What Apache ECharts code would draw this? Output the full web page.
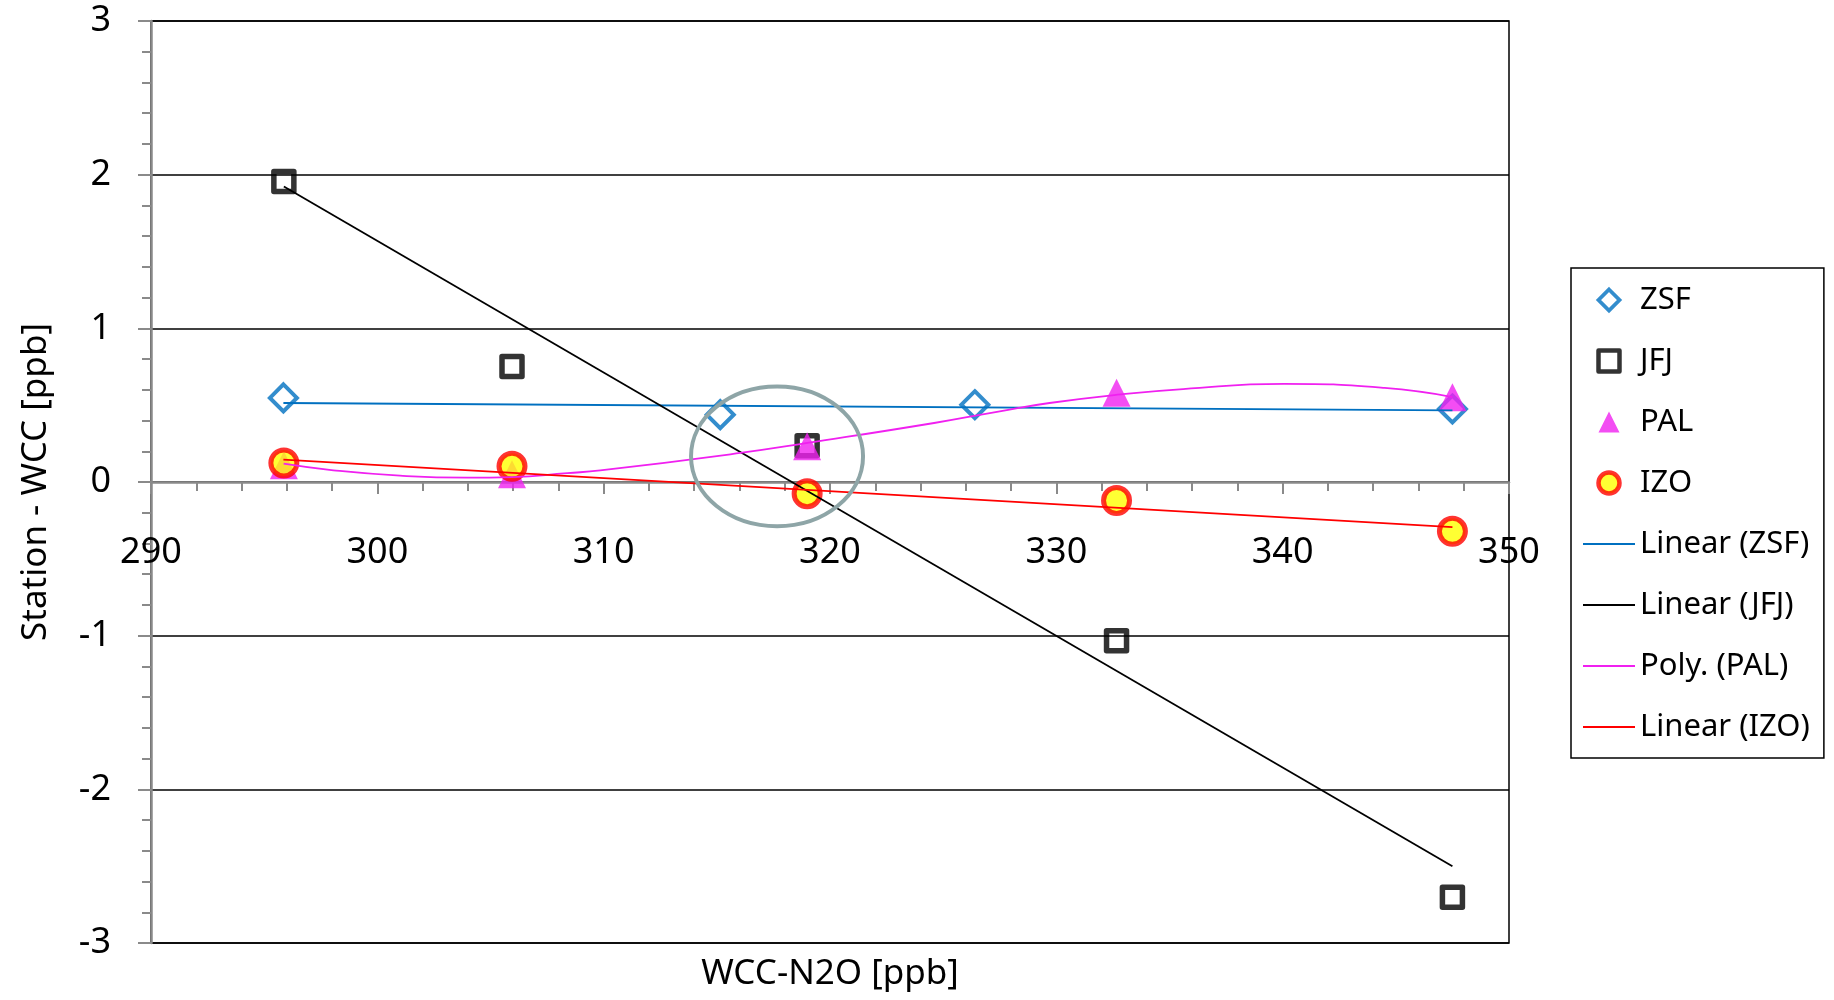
<!DOCTYPE html>
<html>
<head>
<meta charset="utf-8">
<title>Station - WCC vs WCC-N2O</title>
<script src="https://cdn.jsdelivr.net/npm/echarts@6/dist/echarts.min.js"></script>
<style>
  html, body { margin: 0; padding: 0; background: #fff; }
  #chart { width: 1834px; height: 1000px; }
</style>
</head>
<body>
<div id="chart"></div>
<script>
// Station minus WCC differences (ppb) against the WCC-N2O level (ppb)
const zsfX = [295.85, 315.15, 326.4, 347.5];
const zsfY = [0.547, 0.438, 0.503, 0.475];

const jfjX = [295.87, 305.95, 318.99, 332.66, 347.5];
const jfjY = [1.956, 0.752, 0.236, -1.033, -2.703];

const palX = [295.87, 305.95, 318.99, 332.66, 347.5];
const palY = [0.109, 0.05, 0.232, 0.581, 0.552];

const izoX = [295.87, 305.95, 318.99, 332.66, 347.5];
const izoY = [0.124, 0.102, -0.076, -0.12, -0.321];

// Trend lines as drawn on the chart (end points / curve samples)
const trendZsfX = [295.85, 347.5];
const trendZsfY = [0.514, 0.466];
const trendJfjX = [295.87, 347.5];
const trendJfjY = [1.923, -2.501];
const trendIzoX = [295.85, 347.5];
const trendIzoY = [0.145, -0.293];
const polyPalX = [295.86, 298.06, 301.0, 303.97, 305.96, 308.4, 309.85, 316.04, 319.0, 324.6, 327.5, 329.7, 332.7, 335.6, 340.06, 344.5, 347.5];
const polyPalY = [0.119, 0.076, 0.041, 0.028, 0.032, 0.058, 0.075, 0.189, 0.254, 0.384, 0.46, 0.514, 0.568, 0.605, 0.638, 0.612, 0.553];

// Highlighted region around the 320 ppb level: centre and half-widths in data units
const noteCentre = [317.66, 0.167];
const noteRadius = [3.8, 0.455];

const xTicks = { min: 290, max: 350, step: 10 };
const yTicks = { min: -3, max: 3, step: 1 };

const seriesNames = ['ZSF', 'JFJ', 'PAL', 'IZO', 'Linear (ZSF)', 'Linear (JFJ)', 'Poly. (PAL)', 'Linear (IZO)'];

const pairs = (xs, ys) => xs.map((x, i) => [x, ys[i]]);

const FONT = 'Noto Sans';
const AXIS_GREY = '#8a8a8a';
const CLEAR = 'rgba(255,255,255,0)';
const COLORS = { zsf: '#0070C0', jfj: '#000000', pal: '#F020F0', izoFill: '#FFFF00', izoEdge: '#FF0000' };

// legend keys: square-proportioned marker outlines and a thin bar for the trend lines
const ICONS = {
  diamond: 'path://M10,0L20,10L10,20L0,10Z',
  square: 'path://M0,0H20V20H0Z',
  triangle: 'path://M10,0L20,20H0Z',
  line: 'path://M0,0H52V2H0Z'
};

const chart = echarts.init(document.getElementById('chart'), null, { renderer: 'canvas' });

const option = {
  animation: false,
  backgroundColor: '#ffffff',
  textStyle: { fontFamily: FONT, color: '#000' },
  grid: {
    left: 151, right: 325, top: 21, bottom: 57,
    outerBoundsMode: 'none',
    containLabel: false,
    show: true, borderColor: '#000', borderWidth: 1.5, backgroundColor: 'transparent'
  },
  legend: {
    orient: 'vertical',
    left: 1571, top: 268,
    padding: [12, 14, 11, 12],
    itemWidth: 52, itemHeight: 21,
    itemGap: 21,
    symbolKeepAspect: true,
    borderColor: '#000', borderWidth: 1.5,
    backgroundColor: '#fff',
    textStyle: { fontFamily: FONT, fontSize: 31, color: '#000', lineHeight: 40 },
    data: [
      { name: seriesNames[0], icon: ICONS.diamond, itemStyle: { color: CLEAR, borderColor: COLORS.zsf, borderWidth: 3.8 } },
      { name: seriesNames[1], icon: ICONS.square, itemStyle: { color: CLEAR, borderColor: COLORS.jfj, borderWidth: 4.5 } },
      { name: seriesNames[2], icon: ICONS.triangle, itemStyle: { color: COLORS.pal, borderWidth: 0 } },
      { name: seriesNames[3], icon: 'circle', itemStyle: { color: COLORS.izoFill, borderColor: COLORS.izoEdge, borderWidth: 4.5 } },
      { name: seriesNames[4], icon: ICONS.line, itemStyle: { color: COLORS.zsf, borderWidth: 0 } },
      { name: seriesNames[5], icon: ICONS.line, itemStyle: { color: COLORS.jfj, borderWidth: 0 } },
      { name: seriesNames[6], icon: ICONS.line, itemStyle: { color: COLORS.pal, borderWidth: 0 } },
      { name: seriesNames[7], icon: ICONS.line, itemStyle: { color: COLORS.izoEdge, borderWidth: 0 } }
    ]
  },
  xAxis: {
    type: 'value',
    position: 'bottom',
    min: xTicks.min, max: xTicks.max, interval: xTicks.step,
    offset: 0,
    axisLine: { show: true, onZero: false, lineStyle: { color: AXIS_GREY, width: 2.5 } },
    axisTick: { show: true, length: 12, lineStyle: { color: AXIS_GREY, width: 2 } },
    minorTick: { show: true, splitNumber: 5, length: 9, lineStyle: { color: AXIS_GREY, width: 2 } },
    axisLabel: { margin: 53, fontSize: 36, color: '#000', fontFamily: FONT, showMinLabel: true, showMaxLabel: true },
    splitLine: { show: false }
  },
  yAxis: {
    type: 'value',
    min: yTicks.min, max: yTicks.max, interval: yTicks.step,
    name: 'Station - WCC [ppb]',
    nameLocation: 'middle',
    nameGap: 97,
    nameTextStyle: { fontSize: 35, color: '#000', fontFamily: FONT },
    axisLine: { show: true, onZero: false, lineStyle: { color: AXIS_GREY, width: 2.5 } },
    axisTick: { show: true, length: 13, lineStyle: { color: AXIS_GREY, width: 2 } },
    minorTick: { show: true, splitNumber: 5, length: 9, lineStyle: { color: AXIS_GREY, width: 2 } },
    axisLabel: { margin: 40, fontSize: 36, color: '#000', fontFamily: FONT },
    splitLine: { show: true, lineStyle: { color: '#000', width: 1.5 } }
  },
  graphic: [{
    type: 'text',
    x: 830, y: 974,
    style: {
      text: 'WCC-N2O [ppb]',
      font: '35px "Noto Sans"',
      fill: '#000',
      textAlign: 'center',
      textVerticalAlign: 'middle'
    }
  }],
  series: [
    {
      name: 'ZSF', type: 'scatter', z: 3,
      data: pairs(zsfX, zsfY),
      symbol: 'diamond', symbolSize: 27,
      itemStyle: { color: CLEAR, borderColor: COLORS.zsf, borderWidth: 4 }
    },
    {
      name: 'JFJ', type: 'scatter', z: 3,
      data: pairs(jfjX, jfjY),
      symbol: 'rect', symbolSize: 20,
      itemStyle: { color: CLEAR, borderColor: COLORS.jfj, borderWidth: 5.5, borderJoin: 'round' }
    },
    {
      name: 'PAL', type: 'scatter', z: 3,
      data: pairs(palX, palY),
      symbol: 'triangle', symbolSize: 28,
      itemStyle: { color: COLORS.pal }
    },
    {
      name: 'IZO', type: 'scatter', z: 3,
      data: pairs(izoX, izoY),
      symbol: 'circle', symbolSize: 26,
      itemStyle: { color: COLORS.izoFill, borderColor: COLORS.izoEdge, borderWidth: 5 }
    },
    {
      name: 'Linear (ZSF)', type: 'line', z: 4,
      data: pairs(trendZsfX, trendZsfY),
      symbol: 'none', lineStyle: { color: COLORS.zsf, width: 1.8 }, itemStyle: { color: COLORS.zsf }
    },
    {
      name: 'Linear (JFJ)', type: 'line', z: 4,
      data: pairs(trendJfjX, trendJfjY),
      symbol: 'none', lineStyle: { color: COLORS.jfj, width: 1.8 }, itemStyle: { color: COLORS.jfj }
    },
    {
      name: 'Poly. (PAL)', type: 'line', z: 4,
      data: pairs(polyPalX, polyPalY),
      smooth: 0.5,
      symbol: 'none', lineStyle: { color: COLORS.pal, width: 1.8 }, itemStyle: { color: COLORS.pal }
    },
    {
      name: 'Linear (IZO)', type: 'line', z: 4,
      data: pairs(trendIzoX, trendIzoY),
      symbol: 'none', lineStyle: { color: COLORS.izoEdge, width: 1.8 }, itemStyle: { color: COLORS.izoEdge }
    },
    {
      name: 'note', type: 'custom', z: 5, silent: true,
      data: [[noteCentre[0], noteCentre[1], noteRadius[0], noteRadius[1]]],
      renderItem: function (params, api) {
        const c = api.coord([api.value(0), api.value(1)]);
        const s = api.size([api.value(2), api.value(3)]);
        return {
          type: 'ellipse',
          shape: { cx: c[0], cy: c[1], rx: s[0], ry: s[1] },
          style: { fill: 'none', stroke: '#8EA5A7', lineWidth: 4 }
        };
      }
    }
  ]
};

chart.setOption(option);

// The horizontal axis crosses at y = 0: shift it up from the grid bottom to the zero line
const zeroPx = chart.convertToPixel({ yAxisIndex: 0 }, 0);
const bottomPx = chart.convertToPixel({ yAxisIndex: 0 }, yTicks.min);
chart.setOption({ xAxis: { offset: zeroPx - bottomPx } });
</script>
</body>
</html>
